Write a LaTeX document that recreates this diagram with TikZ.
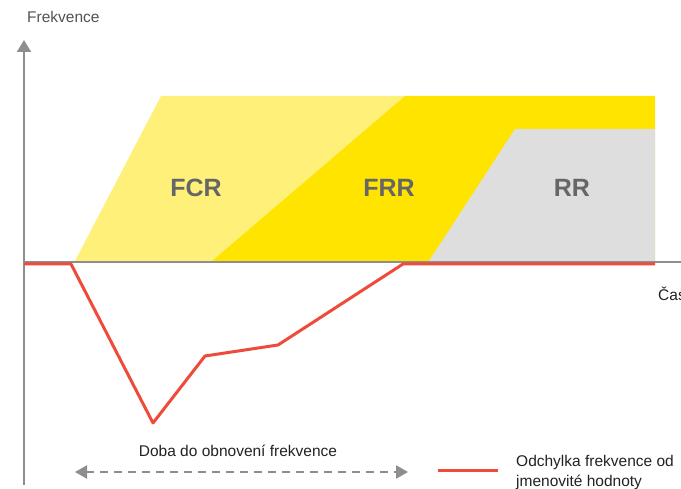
\documentclass[tikz,border=0pt]{standalone}
\usepackage{fontspec}
\setmainfont{Liberation Sans}
\usepackage{xcolor}
\usetikzlibrary{arrows.meta,positioning}

\definecolor{axisgray}{HTML}{8E8E8E}
\definecolor{fcryellow}{HTML}{FFF07A}
\definecolor{frryellow}{HTML}{FFE400}
\definecolor{rrgray}{HTML}{DEDEDE}
\definecolor{labelgray}{HTML}{666666}
\definecolor{devred}{HTML}{EE4B3B}
\definecolor{textdark}{HTML}{222222}

\begin{document}
\begin{tikzpicture}[x=1pt, y=-1pt,
        axis/.style={draw=axisgray, line width=2pt, -{Triangle[length=12pt, width=14pt]}},
        band/.style={font=\bfseries\fontsize{25}{25}\selectfont, text=labelgray},
        deviation/.style={draw=devred, line width=3pt, line join=round},
        recovery/.style={draw=axisgray, line width=2.5pt, dash pattern=on 8pt off 6pt,
            {Triangle[length=12pt, width=13pt]}-{Triangle[length=12pt, width=13pt]}},
        caption/.style={font=\fontsize{15.5}{20}\selectfont, text=textdark, inner sep=0pt}
    ]
        \useasboundingbox (0,0) rectangle (681,489);
        \clip (0,0) rectangle (681,489);

        % Reserve bands
        \fill[fcryellow] (75,261) -- (161,96) -- (405,96) -- (212,261) -- cycle;
        \fill[frryellow] (212,261) -- (405,96) -- (655,96) -- (655,261) -- cycle;
        \fill[rrgray] (429,261) -- (515,129) -- (655,129) -- (655,261) -- cycle;
        \node[band] (fcr) at (196,188) {FCR};
        \node[band] (frr) at (389,188) {FRR};
        \node[band] (rr) at (572,188) {RR};

        % Axes
        \coordinate (origin) at (24,262);
        \coordinate (ytop) at (24,40);
        \coordinate (ybot) at (24,485);
        \coordinate (xend) at (693,262);
        \draw[axis] (ybot) -- (ytop);
        \draw[axis] (origin) -- (xend);
        \node[caption, text=labelgray!80!black, anchor=west] (ylabel) at (27,17) {Frekvence};
        \node[caption, anchor=west] (xlabel) at (658,294) {Čas};

        % Frequency deviation
        \coordinate (dev0) at (24,264);
        \coordinate (dev1) at (71,264);
        \coordinate (dev2) at (153,423);
        \coordinate (dev3) at (205,356);
        \coordinate (dev4) at (278,345);
        \coordinate (dev5) at (403,264);
        \coordinate (dev6) at (655,264);
        \draw[deviation] (dev0) -- (dev1) -- (dev2) -- (dev3) -- (dev4) -- (dev5) -- (dev6);

        % Recovery time
        \coordinate (recstart) at (75,472);
        \coordinate (recend) at (408,472);
        \draw[recovery] (recstart) -- (recend);
        \node[caption] (rectext) at (238,451) {Doba do obnovení frekvence};

        % Legend
        \coordinate (legA) at (438,470);
        \coordinate (legB) at (498,470);
        \draw[deviation] (legA) -- (legB);
        \node[caption, align=left, right=18pt of legB, yshift=-2pt] (legtext) {Odchylka frekvence od\\jmenovité hodnoty};

    \end{tikzpicture}
\end{document}
